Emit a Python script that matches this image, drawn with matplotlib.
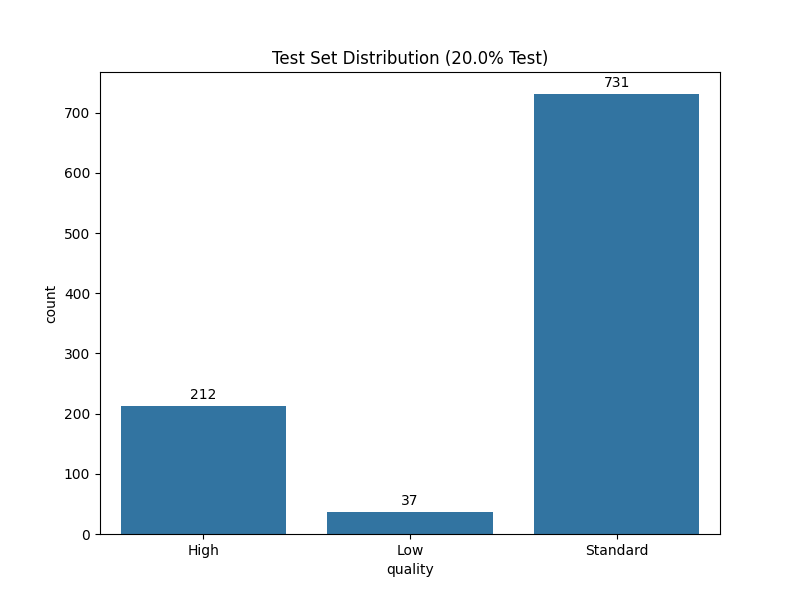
import matplotlib
matplotlib.use("Agg")
import matplotlib.pyplot as plt
import seaborn as sns
import pandas as pd

categories = ["High", "Low", "Standard"]
counts = [212, 37, 731]

df = pd.DataFrame({"quality": categories, "count": counts})

fig, ax = plt.subplots(figsize=(8, 6), dpi=100)
sns.barplot(data=df, x="quality", y="count", color="#1f77b4", saturation=0.75, ax=ax)
for c in ax.containers:
    ax.bar_label(c, fmt="%d", padding=3)
ax.set_title("Test Set Distribution (20.0% Test)")
ax.set_xlabel("quality")
ax.set_ylabel("count")
fig.savefig("out.png")
